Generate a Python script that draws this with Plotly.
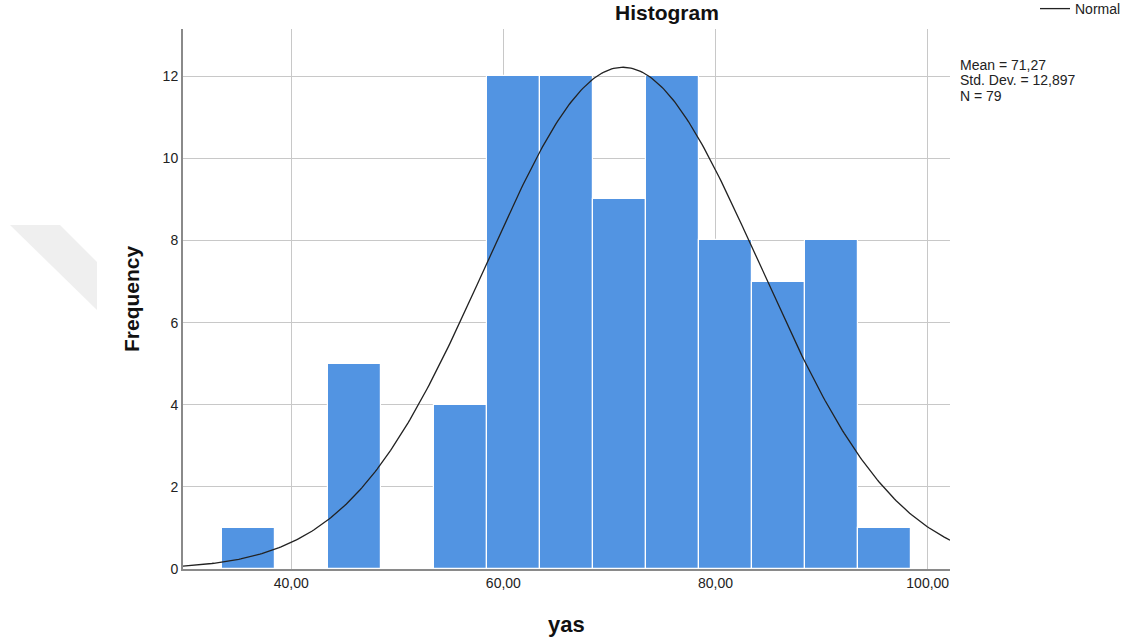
import numpy as np
import plotly.graph_objects as go

# Data
bin_centers = [35.95, 45.95, 55.95, 60.95, 65.95, 70.95, 75.95, 80.95, 85.95, 90.95, 95.95]
counts = [1, 5, 4, 12, 12, 9, 12, 8, 7, 8, 1]
bin_width = 5.0
mean_val = 71.27
sd_val = 12.897
n_val = 79
x_tick_vals = [40, 60, 80, 100]
x_tick_text = ["40,00", "60,00", "80,00", "100,00"]
y_tick_vals = [0, 2, 4, 6, 8, 10, 12]
stats_lines = ["Mean = 71,27", "Std. Dev. = 12,897", f"N = {n_val}"]

W, H = 1133, 644
L, R, T, B = 183, 950, 29, 569

def px(x):
    return (x - L) / (R - L)

def py(y):
    return (B - y) / (B - T)

xs = np.linspace(29.8, 102.1, 400)
ys = n_val * bin_width / (sd_val * np.sqrt(2 * np.pi)) * np.exp(-0.5 * ((xs - mean_val) / sd_val) ** 2)

fig = go.Figure()
fig.add_trace(go.Bar(
    x=bin_centers, y=counts, width=bin_width,
    marker=dict(color="rgb(82,148,226)", line=dict(color="white", width=1.2)),
    showlegend=False, hoverinfo="x+y",
))
fig.add_trace(go.Scatter(
    x=xs, y=ys, mode="lines", name="Normal",
    line=dict(color="#222222", width=1.3), showlegend=True,
))

font_family = "Liberation Sans, Arial, sans-serif"

annotations = [
    dict(text="<b>Histogram</b>", xref="paper", yref="paper",
         x=px(667), y=py(12), xanchor="center", yanchor="middle",
         showarrow=False, font=dict(size=21, color="#111111")),
    dict(text="<b>yas</b>", xref="paper", yref="paper",
         x=px(566), y=py(624), xanchor="center", yanchor="middle",
         showarrow=False, font=dict(size=22, color="#111111")),
    dict(text="<b>Frequency</b>", xref="paper", yref="paper",
         x=px(131), y=py(299), xanchor="center", yanchor="middle",
         textangle=-90, showarrow=False, font=dict(size=21, color="#111111")),
]
for i, s in enumerate(stats_lines):
    annotations.append(dict(text=s, xref="paper", yref="paper",
                            x=px(958), y=py(65 + 15.5 * i),
                            xanchor="left", yanchor="middle", showarrow=False,
                            font=dict(size=14, color="#222222")))

fig.update_layout(
    width=W, height=H,
    margin=dict(l=L, r=W - R, t=T, b=H - B, autoexpand=False),
    plot_bgcolor="white", paper_bgcolor="white",
    font=dict(family=font_family, size=14, color="#222222"),
    bargap=0,
    legend=dict(x=px(1035), y=py(-7), xanchor="left", yanchor="top",
                bgcolor="rgba(0,0,0,0)", font=dict(size=14), itemwidth=30,
                tracegroupgap=0),
    xaxis=dict(range=[29.8, 102.1], tickvals=x_tick_vals, ticktext=x_tick_text,
               showgrid=True, gridcolor="#c8c8c8", gridwidth=1.2,
               showline=True, linecolor="#8a8a8a", linewidth=2,
               ticks="", zeroline=False, tickfont=dict(size=14)),
    yaxis=dict(range=[0, 13.15], tickvals=y_tick_vals,
               showgrid=True, gridcolor="#c8c8c8", gridwidth=1.2,
               showline=True, linecolor="#8a8a8a", linewidth=2,
               ticks="", zeroline=False, tickfont=dict(size=14)),
    shapes=[
        dict(type="path", xref="paper", yref="paper", layer="below",
             path=f"M {px(10)} {py(225)} L {px(60)} {py(225)} L {px(97)} {py(262)} L {px(97)} {py(310)} Z",
             fillcolor="#efefef", line=dict(width=0)),
    ],
    annotations=annotations,
)

fig.write_html("out.html", config={"displayModeBar": False},
               post_script="document.body.style.margin='0px';")
